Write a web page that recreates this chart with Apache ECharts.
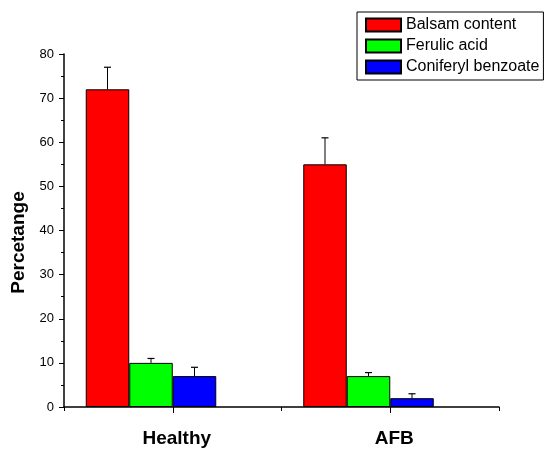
<!DOCTYPE html>
<html>
<head>
<meta charset="utf-8">
<script src="https://cdn.jsdelivr.net/npm/echarts@6/dist/echarts.min.js"></script>
<style>
html,body{margin:0;padding:0;background:#fff;}
#chart{width:550px;height:449px;}
</style>
</head>
<body>
<div id="chart"></div>
<script>
const categories = ['Healthy', 'AFB'];
const seriesNames = ['Balsam content', 'Ferulic acid', 'Coniferyl benzoate'];
const balsam = [72, 55];
const balsamErr = [5, 6];
const ferulic = [10, 7];
const ferulicErr = [1, 0.8];
const coniferyl = [7, 2];
const coniferylErr = [2, 1];
const yTicks = { min: 0, max: 80, interval: 10 };

const colors = ['#ff0000', '#00ff00', '#0000ff'];
const values = [balsam, ferulic, coniferyl];
const errs = [balsamErr, ferulicErr, coniferylErr];
const FONT = 'Liberation Sans, Arial, sans-serif';

const chart = echarts.init(document.getElementById('chart'), null, { renderer: 'canvas' });

const barSeries = values.map((vals, i) => ({
  name: seriesNames[i],
  type: 'bar',
  xAxisIndex: 0,
  data: vals,
  barWidth: '20%',
  barGap: '0%',
  itemStyle: { color: colors[i], borderColor: '#000', borderWidth: 1 },
  emphasis: { disabled: true },
  z: 2
}));
// Spacer slot (the original software leaves an empty slot after the third bar)
barSeries.push({ name: 'spacer', type: 'bar', xAxisIndex: 0, data: [], barWidth: '20%', barGap: '0%', silent: true });

const errSeries = values.map((vals, i) => ({
  type: 'custom',
  xAxisIndex: 0,
  z: 3,
  silent: true,
  data: vals.map((v, k) => [k, v, v + errs[i][k]]),
  renderItem: function (params, api) {
    const band = api.size([1, 0])[0];
    const off = (i - 1.5) * 0.2 * band;
    const p0 = api.coord([api.value(0), api.value(1)]);
    const p1 = api.coord([api.value(0), api.value(2)]);
    const x = p0[0] + off;
    const cap = 3.5;
    return {
      type: 'group',
      children: [
        { type: 'line', shape: { x1: x, y1: p0[1], x2: x, y2: p1[1] }, style: { stroke: '#000', lineWidth: 1 } },
        { type: 'line', shape: { x1: x - cap, y1: p1[1], x2: x + cap, y2: p1[1] }, style: { stroke: '#000', lineWidth: 1.2 } }
      ]
    };
  }
}));

chart.setOption({
  animation: false,
  backgroundColor: '#fff',
  grid: { left: 64, right: 51, top: 54, bottom: 42, containLabel: false },
  legend: {
    data: seriesNames,
    orient: 'vertical',
    left: 357,
    top: 12,
    icon: 'rect',
    itemWidth: 35,
    itemHeight: 13,
    itemGap: 5,
    padding: [5, 4, 5, 8],
    borderColor: '#000',
    borderWidth: 1,
    textStyle: { fontFamily: FONT, fontSize: 16, color: '#000' },
    selectedMode: false
  },
  xAxis: [
    {
      type: 'category',
      data: categories,
      position: 'bottom',
      boundaryGap: true,
      axisLine: { show: true, lineStyle: { color: '#000', width: 1.5 } },
      axisTick: { show: true, alignWithLabel: false, length: 4, inside: false, lineStyle: { color: '#000', width: 1 } },
      axisLabel: { show: false },
      splitLine: { show: false }
    },
    {
      type: 'category',
      data: categories,
      position: 'bottom',
      boundaryGap: true,
      axisLine: { show: false },
      axisTick: { show: true, alignWithLabel: true, length: 6, lineStyle: { color: '#000', width: 1 } },
      axisLabel: { show: true, margin: 22, fontFamily: FONT, fontSize: 19, fontWeight: 'bold', color: '#000', padding: [0, 0, 0, 8] },
      splitLine: { show: false }
    }
  ],
  yAxis: {
    type: 'value',
    min: yTicks.min,
    max: yTicks.max,
    interval: yTicks.interval,
    name: 'Percetange',
    nameLocation: 'middle',
    nameGap: 36,
    nameTextStyle: { fontFamily: FONT, fontSize: 19, fontWeight: 'bold', color: '#000', padding: [0, 24, 0, 0] },
    axisLine: { show: true, lineStyle: { color: '#000', width: 1.5 } },
    axisTick: { show: true, inside: false, length: 5, lineStyle: { color: '#000', width: 1 } },
    minorTick: { show: true, splitNumber: 2, length: 3, lineStyle: { color: '#000', width: 1 } },
    axisLabel: { fontFamily: FONT, fontSize: 13, color: '#000', margin: 10 },
    splitLine: { show: false },
    minorSplitLine: { show: false }
  },
  series: barSeries.concat(errSeries)
});
</script>
</body>
</html>
